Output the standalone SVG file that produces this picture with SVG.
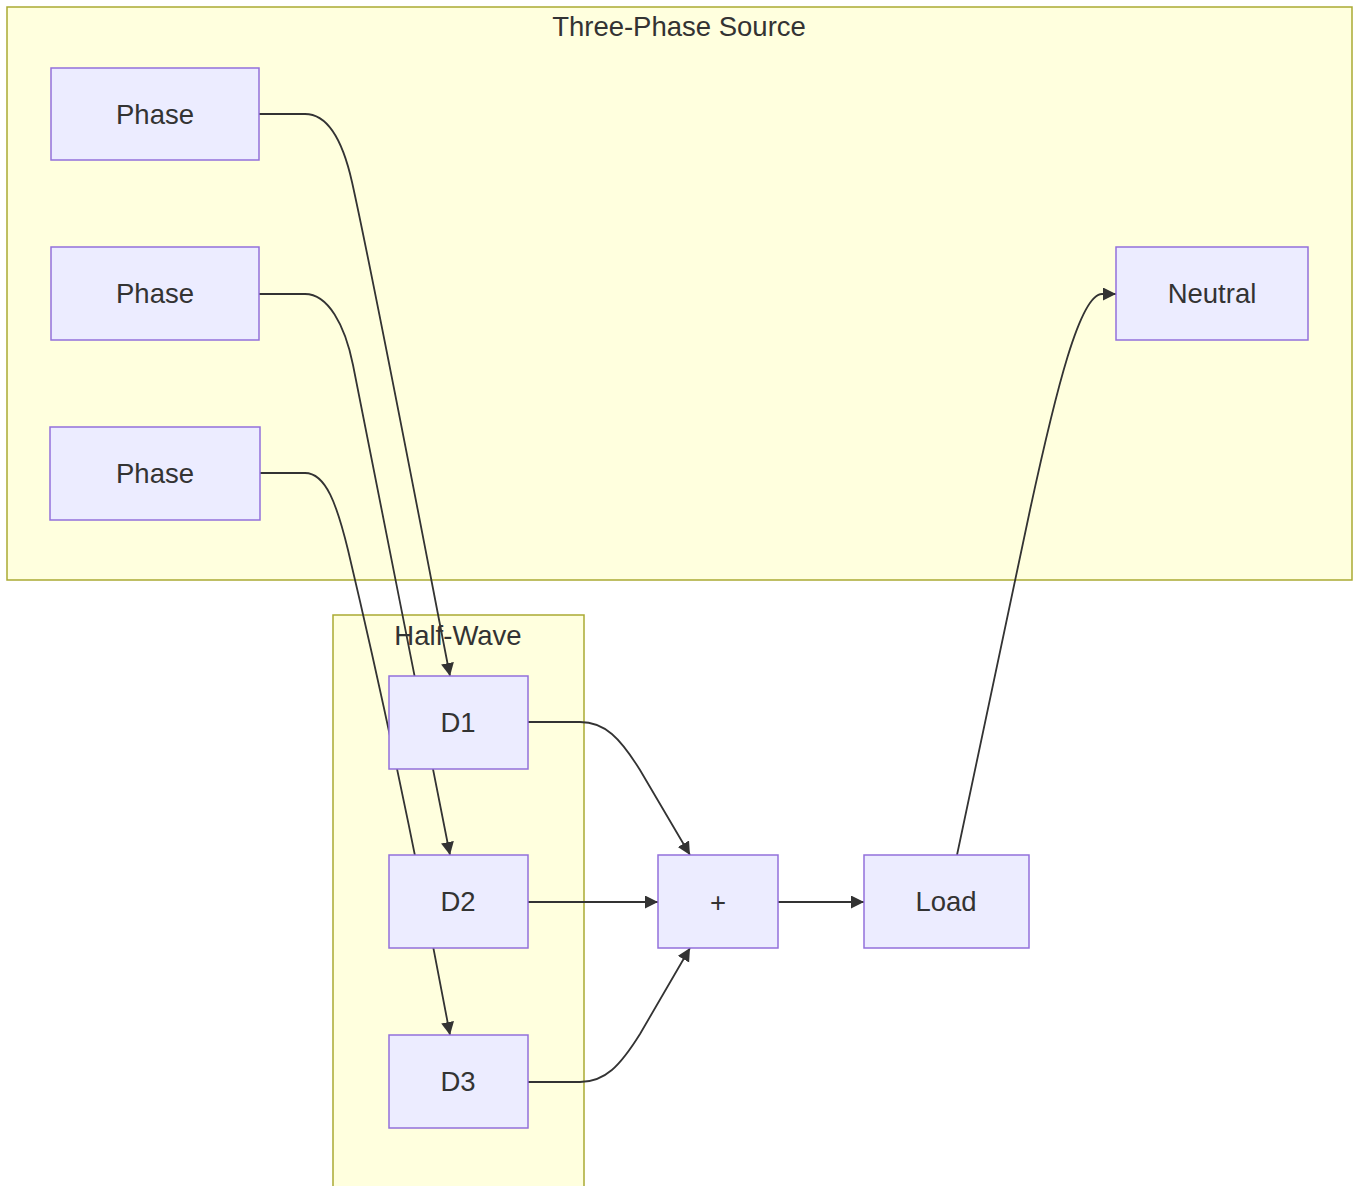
<svg xmlns="http://www.w3.org/2000/svg" width="1358" height="1186" viewBox="0 0 1358 1186">
<style>
.cluster{fill:#ffffde;stroke:#aaaa33;stroke-width:1.5}
.node rect{fill:#ececff;stroke:#9370db;stroke-width:1.5}
text{font-family:"Liberation Sans",Arial,sans-serif;fill:#333333;font-size:27.5px;text-anchor:middle}
.edge{fill:none;stroke:#333333;stroke-width:1.8}
</style>
<defs>
<marker id="arr" markerUnits="userSpaceOnUse" markerWidth="16" markerHeight="16" refX="13" refY="6.5" orient="auto">
<path d="M0,0 L13,6.5 L0,13 z" fill="#333333"/>
</marker>
</defs>
<rect width="1358" height="1186" fill="#ffffff"/>
<g id="cluster-source">
<rect class="cluster" x="7" y="7" width="1345" height="573"/>
<text x="679" y="36">Three-Phase Source</text>
</g>
<g id="cluster-halfwave">
<rect class="cluster" x="333" y="615" width="251" height="580"/>
<text x="458" y="645">Half-Wave</text>
</g>
<g id="edges">
<path class="edge" marker-end="url(#arr)" d="M259,114 L305,114 C328,114 343,142 352,182 C376,290 435,600 450,676"/>
<path class="edge" marker-end="url(#arr)" d="M259,294 L305,294 C328,294 345,325 353,365 C372,460 435,780 450,855"/>
<path class="edge" marker-end="url(#arr)" d="M260,473 L305,473 C326,473 337,505 348,550 C386,710 420,875 450,1035"/>
<path class="edge" marker-end="url(#arr)" d="M528,722 L580,722 C605,722 620,738 640,770 L690,855"/>
<path class="edge" marker-end="url(#arr)" d="M528,902 L658,902"/>
<path class="edge" marker-end="url(#arr)" d="M528,1082 L580,1082 C605,1082 620,1066 640,1034 L690,948"/>
<path class="edge" marker-end="url(#arr)" d="M778,902 L864,902"/>
<path class="edge" marker-end="url(#arr)" d="M957,855 L1030,510 C1056,390 1080,294 1102,294 L1116,294"/>
</g>
<g id="phase1" class="node"><rect x="51" y="68" width="208" height="92"/><text x="155" y="124">Phase</text></g>
<g id="phase2" class="node"><rect x="51" y="247" width="208" height="93"/><text x="155" y="303">Phase</text></g>
<g id="phase3" class="node"><rect x="50" y="427" width="210" height="93"/><text x="155" y="483">Phase</text></g>
<g id="neutral" class="node"><rect x="1116" y="247" width="192" height="93"/><text x="1212" y="303">Neutral</text></g>
<g id="d1" class="node"><rect x="389" y="676" width="139" height="93"/><text x="458" y="732">D1</text></g>
<g id="d2" class="node"><rect x="389" y="855" width="139" height="93"/><text x="458" y="911">D2</text></g>
<g id="d3" class="node"><rect x="389" y="1035" width="139" height="93"/><text x="458" y="1091">D3</text></g>
<g id="sum" class="node"><rect x="658" y="855" width="120" height="93"/><text x="718" y="912">+</text></g>
<g id="load" class="node"><rect x="864" y="855" width="165" height="93"/><text x="946" y="911">Load</text></g>
</svg>
